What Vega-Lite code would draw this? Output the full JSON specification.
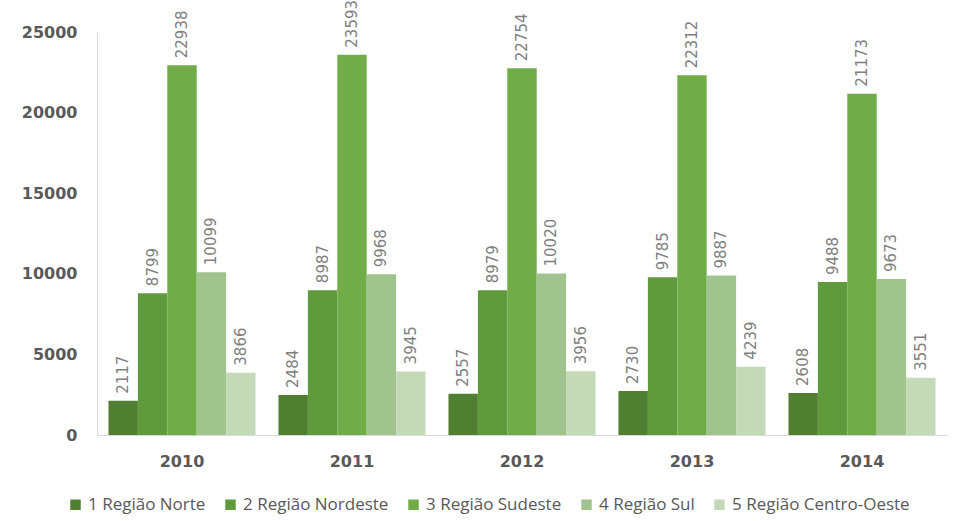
{
  "$schema": "https://vega.github.io/schema/vega-lite/v6.json",
  "width": 850,
  "height": 403,
  "autosize": {"type": "none"},
  "padding": {"left": 97, "top": 32, "right": 13, "bottom": 86},
  "background": "white",
  "config": {"view": {"stroke": null}},
  "data": {
    "values": [
      {"ano": "2010", "regiao": "1 Região Norte", "valor": 2117},
      {"ano": "2010", "regiao": "2 Região Nordeste", "valor": 8799},
      {"ano": "2010", "regiao": "3 Região Sudeste", "valor": 22938},
      {"ano": "2010", "regiao": "4 Região Sul", "valor": 10099},
      {"ano": "2010", "regiao": "5 Região Centro-Oeste", "valor": 3866},
      {"ano": "2011", "regiao": "1 Região Norte", "valor": 2484},
      {"ano": "2011", "regiao": "2 Região Nordeste", "valor": 8987},
      {"ano": "2011", "regiao": "3 Região Sudeste", "valor": 23593},
      {"ano": "2011", "regiao": "4 Região Sul", "valor": 9968},
      {"ano": "2011", "regiao": "5 Região Centro-Oeste", "valor": 3945},
      {"ano": "2012", "regiao": "1 Região Norte", "valor": 2557},
      {"ano": "2012", "regiao": "2 Região Nordeste", "valor": 8979},
      {"ano": "2012", "regiao": "3 Região Sudeste", "valor": 22754},
      {"ano": "2012", "regiao": "4 Região Sul", "valor": 10020},
      {"ano": "2012", "regiao": "5 Região Centro-Oeste", "valor": 3956},
      {"ano": "2013", "regiao": "1 Região Norte", "valor": 2730},
      {"ano": "2013", "regiao": "2 Região Nordeste", "valor": 9785},
      {"ano": "2013", "regiao": "3 Região Sudeste", "valor": 22312},
      {"ano": "2013", "regiao": "4 Região Sul", "valor": 9887},
      {"ano": "2013", "regiao": "5 Região Centro-Oeste", "valor": 4239},
      {"ano": "2014", "regiao": "1 Região Norte", "valor": 2608},
      {"ano": "2014", "regiao": "2 Região Nordeste", "valor": 9488},
      {"ano": "2014", "regiao": "3 Região Sudeste", "valor": 21173},
      {"ano": "2014", "regiao": "4 Região Sul", "valor": 9673},
      {"ano": "2014", "regiao": "5 Região Centro-Oeste", "valor": 3551}
    ]
  },
  "encoding": {
    "x": {
      "field": "ano", "type": "nominal",
      "scale": {"paddingInner": 0.135, "paddingOuter": 0.0675},
      "axis": {
        "title": null, "labelAngle": 0, "ticks": false,
        "domainColor": "#d9d9d9", "domainWidth": 1,
        "labelFont": "DejaVu Sans", "labelFontSize": 16, "labelFontWeight": "bold",
        "labelColor": "#595959", "labelPadding": 18
      }
    },
    "xOffset": {
      "field": "regiao", "type": "nominal",
      "scale": {"paddingInner": 0, "paddingOuter": 0}
    },
    "y": {
      "field": "valor", "type": "quantitative",
      "scale": {"domain": [0, 25000], "nice": false},
      "axis": {
        "title": null, "values": [0, 5000, 10000, 15000, 20000, 25000],
        "format": "d",
        "grid": false, "ticks": false,
        "domainColor": "#d9d9d9", "domainWidth": 1,
        "labelFont": "DejaVu Sans", "labelFontSize": 16, "labelFontWeight": "bold",
        "labelColor": "#595959", "labelPadding": 20
      }
    }
  },
  "layer": [
    {
      "mark": {"type": "bar"},
      "encoding": {
        "color": {
          "field": "regiao", "type": "nominal",
          "scale": {
            "domain": ["1 Região Norte", "2 Região Nordeste", "3 Região Sudeste", "4 Região Sul", "5 Região Centro-Oeste"],
            "range": ["#507f32", "#5f9a3c", "#70ac47", "#a1c48f", "#c4d9b8"]
          },
          "legend": {
            "title": null, "orient": "none", "direction": "horizontal",
            "legendX": -30, "legendY": 464,
            "symbolType": "square", "symbolSize": 110, "symbolStrokeWidth": 0,
            "labelFont": "Open Sans", "labelFontSize": 17,
            "labelColor": "#595959", "labelOffset": 4, "columnPadding": 16,
            "labelLimit": 300
          }
        }
      }
    },
    {
      "mark": {
        "type": "text", "angle": 270, "align": "left", "baseline": "middle",
        "dx": 7, "font": "DejaVu Sans", "fontSize": 15, "color": "#808080"
      },
      "encoding": {
        "text": {"field": "valor", "type": "quantitative", "format": "d"}
      }
    }
  ]
}
